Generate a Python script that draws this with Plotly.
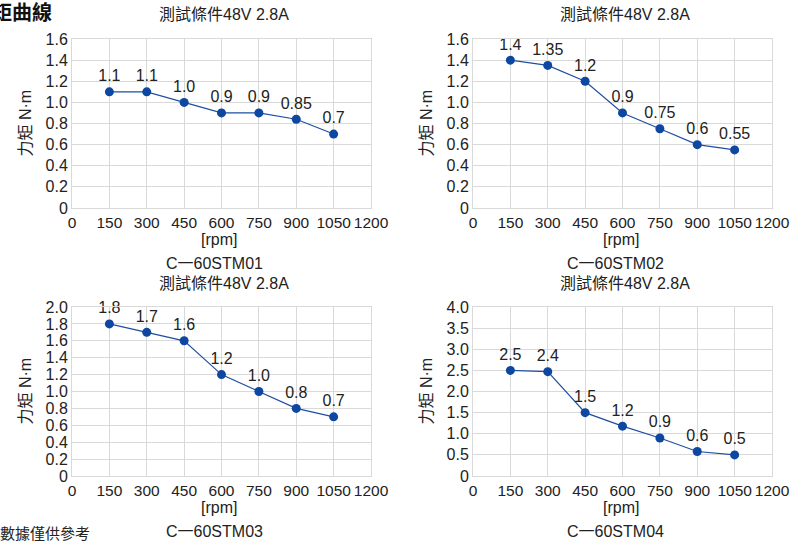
import plotly.graph_objects as go

W, H = 790, 542

speeds = [150, 300, 450, 600, 750, 900, 1050]
models = ["C一60STM01", "C一60STM02", "C一60STM03", "C一60STM04"]
torque_01 = [1.1, 1.1, 1.0, 0.9, 0.9, 0.84, 0.7]
torque_02 = [1.4, 1.35, 1.2, 0.9, 0.75, 0.6, 0.55]
torque_03 = [1.8, 1.7, 1.6, 1.2, 1.0, 0.8, 0.7]
torque_04 = [2.5, 2.47, 1.5, 1.18, 0.9, 0.58, 0.5]
labels_01 = ["1.1", "1.1", "1.0", "0.9", "0.9", "0.85", "0.7"]
labels_02 = ["1.4", "1.35", "1.2", "0.9", "0.75", "0.6", "0.55"]
labels_03 = ["1.8", "1.7", "1.6", "1.2", "1.0", "0.8", "0.7"]
labels_04 = ["2.5", "2.4", "1.5", "1.2", "0.9", "0.6", "0.5"]
x_ticks = [0, 150, 300, 450, 600, 750, 900, 1050, 1200]
y_ticks_16 = [0, 0.2, 0.4, 0.6, 0.8, 1.0, 1.2, 1.4, 1.6]
y_ticks_20 = [0, 0.2, 0.4, 0.6, 0.8, 1.0, 1.2, 1.4, 1.6, 1.8, 2.0]
y_ticks_40 = [0, 0.5, 1.0, 1.5, 2.0, 2.5, 3.0, 3.5, 4.0]
title_text = "測試條件48V 2.8A"
y_title = "力矩 N·m"
x_title = "[rpm]"

series = [torque_01, torque_02, torque_03, torque_04]
labels = [labels_01, labels_02, labels_03, labels_04]
yticks = [y_ticks_16, y_ticks_16, y_ticks_20, y_ticks_40]

# pixel geometry of plot areas: (left, right, top, bottom)
boxes = [(72, 371, 39, 208), (473, 772, 39, 208), (72, 371, 307, 476), (473, 772, 307, 476)]

FONT = "Liberation Sans, Noto Sans CJK TC, sans-serif"
GRID = "#d9d9d9"
LINE = "#1f4fa0"
MARK = "#0d47a1"
TXT = "#222222"

fig = go.Figure()
annotations = []

def fmt(v):
    return "0" if v == 0 else f"{v:.1f}"

for i in range(4):
    l, r, t, b = boxes[i]
    xa = "x" if i == 0 else f"x{i+1}"
    ya = "y" if i == 0 else f"y{i+1}"
    fig.add_trace(go.Scatter(
        x=speeds, y=series[i], mode="lines+markers+text",
        text=labels[i], textposition="top center",
        textfont=dict(size=16, color=TXT, family=FONT),
        line=dict(color=LINE, width=1.2),
        marker=dict(color=MARK, size=9),
        xaxis=xa, yaxis=ya, showlegend=False, cliponaxis=False,
    ))
    xkey = "xaxis" if i == 0 else f"xaxis{i+1}"
    ykey = "yaxis" if i == 0 else f"yaxis{i+1}"
    ymax = yticks[i][-1]
    fig.update_layout(**{
        xkey: dict(domain=[l / W, r / W], anchor=ya, range=[0, 1200],
                   tickvals=x_ticks, ticktext=[str(v) for v in x_ticks], tickangle=0,
                   showgrid=True, gridcolor=GRID, gridwidth=1, automargin=False,
                   showline=True, linecolor=GRID, mirror=True, zeroline=False,
                   tickfont=dict(size=15.5, color=TXT, family=FONT), ticks=""),
        ykey: dict(domain=[1 - b / H, 1 - t / H], anchor=xa, range=[0, ymax],
                   tickvals=yticks[i], ticktext=[fmt(v) for v in yticks[i]],
                   showgrid=True, gridcolor=GRID, gridwidth=1, automargin=False,
                   showline=True, linecolor=GRID, mirror=True, zeroline=False,
                   tickfont=dict(size=16, color=TXT, family=FONT), ticks=""),
    })
    cx = (l + r) / 2
    annotations.append(dict(text=title_text, x=(cx + 2) / W, y=1 - (t - 24) / H,
                            xref="paper", yref="paper", showarrow=False,
                            xanchor="center", yanchor="middle",
                            font=dict(size=16, color=TXT, family=FONT)))
    annotations.append(dict(text=x_title, x=(cx - 2) / W, y=1 - (b + 31) / H,
                            xref="paper", yref="paper", showarrow=False,
                            xanchor="center", yanchor="middle",
                            font=dict(size=16, color=TXT, family=FONT)))
    annotations.append(dict(text=models[i], x=(cx - 7) / W, y=1 - (b + 55) / H,
                            xref="paper", yref="paper", showarrow=False,
                            xanchor="center", yanchor="middle",
                            font=dict(size=16, color=TXT, family=FONT)))
    annotations.append(dict(text=y_title, x=(l - 47) / W, y=1 - ((t + b) / 2) / H,
                            xref="paper", yref="paper", showarrow=False,
                            xanchor="center", yanchor="middle", textangle=-90,
                            font=dict(size=16, color=TXT, family=FONT)))

annotations.append(dict(text="<b>轉矩曲線</b>", x=-30 / W, y=1 - 13 / H,
                        xref="paper", yref="paper", showarrow=False,
                        xanchor="left", yanchor="middle",
                        font=dict(size=20, color="#111111", family=FONT)))
annotations.append(dict(text="數據僅供參考", x=-2 / W, y=1 - 533 / H,
                        xref="paper", yref="paper", showarrow=False,
                        xanchor="left", yanchor="middle",
                        font=dict(size=15, color=TXT, family=FONT)))

fig.update_layout(width=W, height=H, margin=dict(l=0, r=0, t=0, b=0),
                  paper_bgcolor="white", plot_bgcolor="white",
                  annotations=annotations, font=dict(family=FONT))

fig.write_html("out.html", config={"displayModeBar": False},
               post_script="document.body.style.margin='0';document.body.style.overflow='hidden';")
